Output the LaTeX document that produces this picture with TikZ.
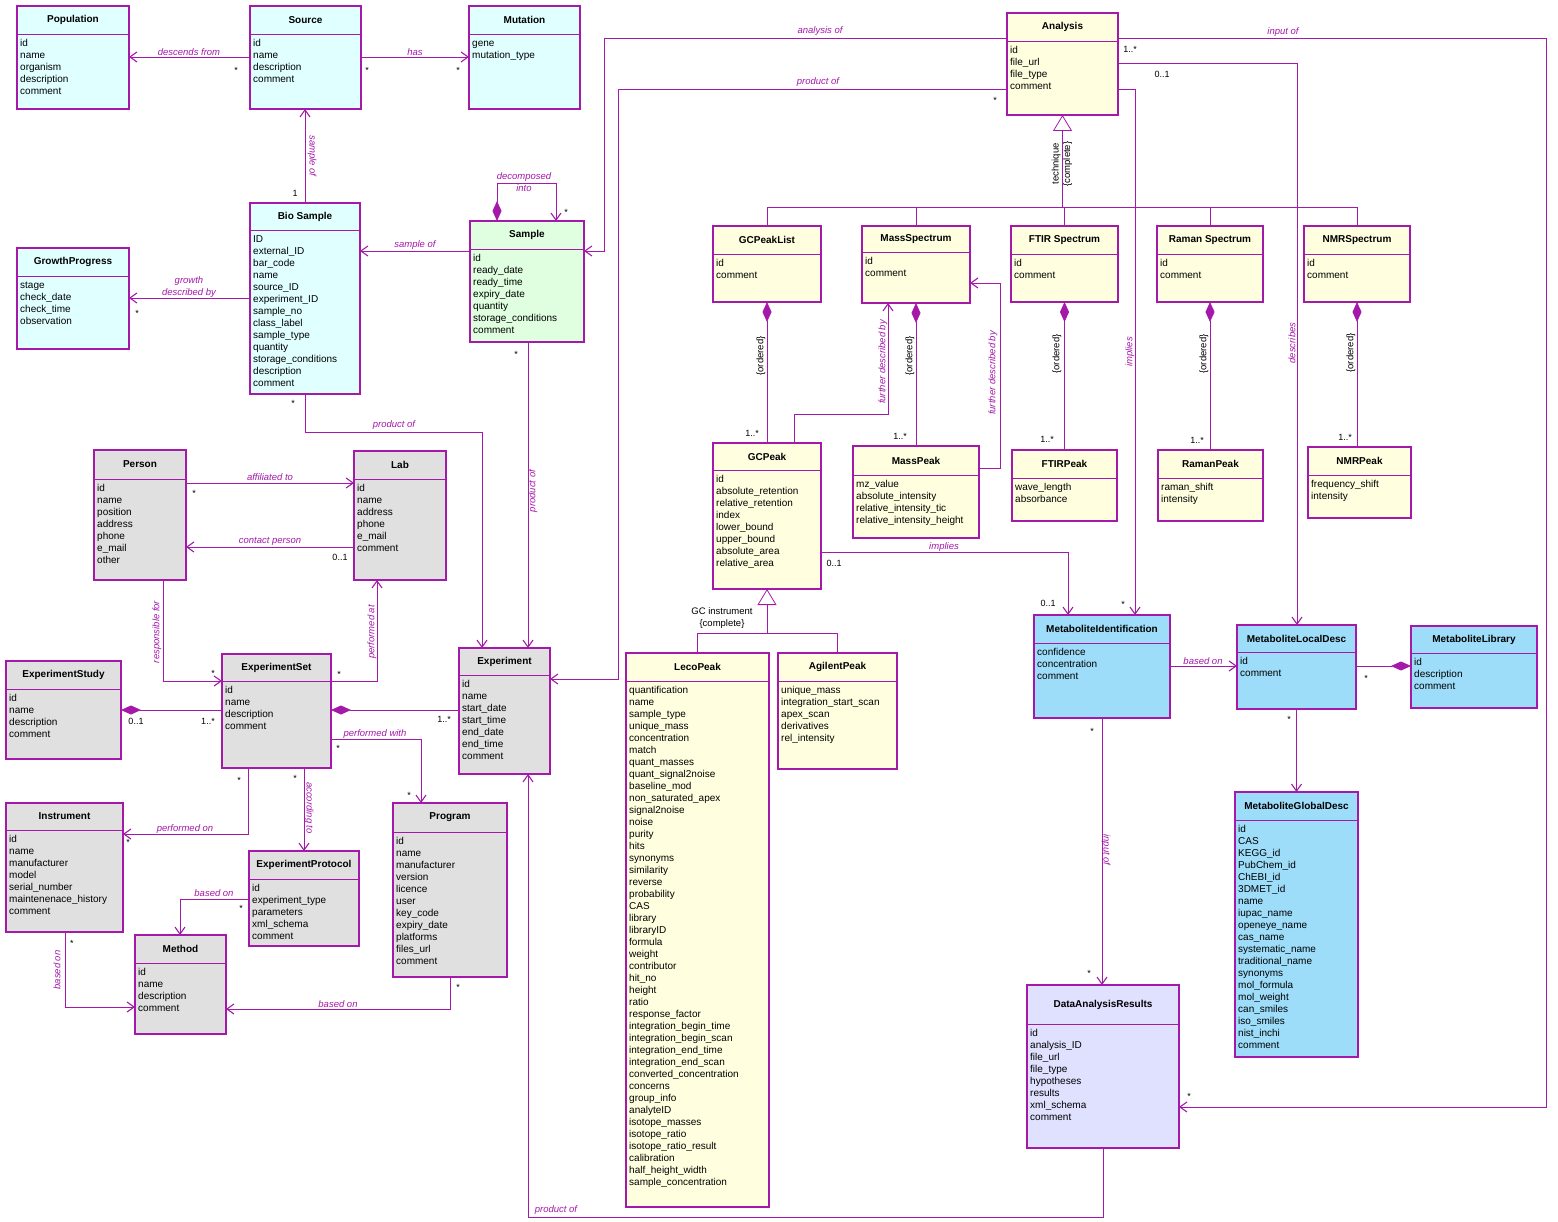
\documentclass[tikz,border=0pt]{standalone}
\usepackage{fontspec}
\setmainfont{Liberation Sans}
\usetikzlibrary{arrows.meta}
\definecolor{umlc}{RGB}{165,25,170}
\definecolor{cyanbg}{RGB}{224,255,255}
\definecolor{yellowbg}{RGB}{255,255,224}
\definecolor{graybg}{RGB}{224,224,224}
\definecolor{greenbg}{RGB}{224,255,224}
\definecolor{bluebg}{RGB}{157,221,250}
\definecolor{lilacbg}{RGB}{224,224,255}
\tikzset{
  classbox/.style={draw=umlc, line width=2.2pt, inner sep=0pt, outer sep=0pt},
  classtitle/.style={font=\bfseries\fontsize{10}{12}\selectfont, inner sep=0pt},
  sepline/.style={draw=umlc, line width=0.8pt},
  attrs/.style={align=left, anchor=north west, inner sep=0pt, font=\fontsize{10}{12}\selectfont},
  link/.style={draw=umlc, line width=0.8pt},
  assoc/.style={link, -{Straight Barb[length=7pt,width=10pt,line width=1.1pt]}},
  compo/.style={link, {Diamond[length=20pt,width=9pt]}-},
  gener/.style={link, {Triangle[length=16pt,width=19pt,fill=white]}-},
  role/.style={font=\itshape\fontsize{9.5}{11.5}\selectfont, text=umlc, inner sep=0pt, align=center},
  note/.style={font=\fontsize{9.5}{11.5}\selectfont, inner sep=0pt, align=center},
  mult/.style={font=\fontsize{9}{10}\selectfont, inner sep=0pt},
}
% name, x, y, width, height, fill, title, attributes, header height
\newcommand{\umlclass}[9]{%
  \node[classbox, fill=#6, minimum width=#4, minimum height=#5, anchor=north west] (#1) at (#2,#3) {};
  \node[classtitle] (#1-title) at ([yshift=-#9/2]#1.north) {#7};
  \draw[sepline] ([yshift=-#9]#1.north west) -- ([yshift=-#9]#1.north east);
  \node[attrs] (#1-attrs) at ([xshift=3,yshift=-#9-3.6]#1.north west) {\strut#8};
}
\begin{document}
\begin{tikzpicture}[x=1pt,y=-1pt]
  \fill[white] (0,0) rectangle (1558,1222);
  \useasboundingbox (0,0) rectangle (1558,1222);

  % classes
  \umlclass{population}{17}{6}{112}{103}{cyanbg}{Population}{id\\name\\organism\\description\\comment}{28}
  \umlclass{source}{250}{6}{111}{103}{cyanbg}{Source}{id\\name\\description\\comment}{28}
  \umlclass{mutation}{469}{6}{111}{103}{cyanbg}{Mutation}{gene\\mutation\_type}{28}
  \umlclass{biosample}{250}{203}{110}{191}{cyanbg}{Bio Sample}{ID\\external\_ID\\bar\_code\\name\\source\_ID\\experiment\_ID\\sample\_no\\class\_label\\sample\_type\\quantity\\storage\_conditions\\description\\comment}{27}
  \umlclass{sample}{470}{221}{114}{121}{greenbg}{Sample}{id\\ready\_date\\ready\_time\\expiry\_date\\quantity\\storage\_conditions\\comment}{28}
  \umlclass{growth}{17}{248}{112}{101}{cyanbg}{GrowthProgress}{stage\\check\_date\\check\_time\\observation}{28}
  \umlclass{person}{94}{450}{92}{130}{graybg}{Person}{id\\name\\position\\address\\phone\\e\_mail\\other}{29}
  \umlclass{lab}{354}{451}{92}{129}{graybg}{Lab}{id\\name\\address\\phone\\e\_mail\\comment}{28}
  \umlclass{expstudy}{6}{661}{115}{98}{graybg}{ExperimentStudy}{id\\name\\description\\comment}{28}
  \umlclass{expset}{222}{654}{109}{114}{graybg}{ExperimentSet}{id\\name\\description\\comment}{27}
  \umlclass{experiment}{459}{648}{91}{126}{graybg}{Experiment}{id\\name\\start\_date\\start\_time\\end\_date\\end\_time\\comment}{27}
  \umlclass{instrument}{6}{803}{117}{129}{graybg}{Instrument}{id\\name\\manufacturer\\model\\serial\_number\\maintenenace\_history\\comment}{27}
  \umlclass{protocol}{249}{851}{110}{95}{graybg}{ExperimentProtocol}{id\\experiment\_type\\parameters\\xml\_schema\\comment}{28}
  \umlclass{method}{135}{935}{91}{99}{graybg}{Method}{id\\name\\description\\comment}{28}
  \umlclass{program}{393}{803}{114}{174}{graybg}{Program}{id\\name\\manufacturer\\version\\licence\\user\\key\_code\\expiry\_date\\platforms\\files\_url\\comment}{29}
  \umlclass{analysis}{1007}{13}{111}{102}{yellowbg}{Analysis}{id\\file\_url\\file\_type\\comment}{28}
  \umlclass{gcpeaklist}{713}{226}{108}{76}{yellowbg}{GCPeakList}{id\\comment}{28}
  \umlclass{massspec}{862}{226}{108}{77}{yellowbg}{MassSpectrum}{id\\comment}{26}
  \umlclass{ftirspec}{1011}{226}{107}{76}{yellowbg}{FTIR Spectrum}{id\\comment}{28}
  \umlclass{ramanspec}{1157}{226}{106}{76}{yellowbg}{Raman Spectrum}{id\\comment}{28}
  \umlclass{nmrspec}{1304}{226}{106}{76}{yellowbg}{NMRSpectrum}{id\\comment}{28}
  \umlclass{gcpeak}{713}{443}{108}{146}{yellowbg}{GCPeak}{id\\absolute\_retention\\relative\_retention\\index\\lower\_bound\\upper\_bound\\absolute\_area\\relative\_area}{27}
  \umlclass{masspeak}{853}{446}{126}{92}{yellowbg}{MassPeak}{mz\_value\\absolute\_intensity\\relative\_intensity\_tic\\relative\_intensity\_height}{29}
  \umlclass{ftirpeak}{1012}{450}{105}{71}{yellowbg}{FTIRPeak}{wave\_length\\absorbance}{28}
  \umlclass{ramanpeak}{1158}{450}{105}{71}{yellowbg}{RamanPeak}{raman\_shift\\intensity}{28}
  \umlclass{nmrpeak}{1308}{447}{103}{71}{yellowbg}{NMRPeak}{frequency\_shift\\intensity}{28}
  \umlclass{leco}{626}{653}{143}{554}{yellowbg}{LecoPeak}{quantification\\name\\sample\_type\\unique\_mass\\concentration\\match\\quant\_masses\\quant\_signal2noise\\baseline\_mod\\non\_saturated\_apex\\signal2noise\\noise\\purity\\hits\\synonyms\\similarity\\reverse\\probability\\CAS\\library\\libraryID\\formula\\weight\\contributor\\hit\_no\\height\\ratio\\response\_factor\\integration\_begin\_time\\integration\_begin\_scan\\integration\_end\_time\\integration\_end\_scan\\converted\_concentration\\concerns\\group\_info\\analyteID\\isotope\_masses\\isotope\_ratio\\isotope\_ratio\_result\\calibration\\half\_height\_width\\sample\_concentration}{28}
  \umlclass{agilent}{778}{653}{119}{116}{yellowbg}{AgilentPeak}{unique\_mass\\integration\_start\_scan\\apex\_scan\\derivatives\\rel\_intensity}{28}
  \umlclass{metid}{1034}{615}{136}{103}{bluebg}{MetaboliteIdentification}{confidence\\concentration\\comment}{28}
  \umlclass{localdesc}{1237}{625}{119}{84}{bluebg}{MetaboliteLocalDesc}{id\\comment}{27}
  \umlclass{library}{1411}{626}{126}{82}{bluebg}{MetaboliteLibrary}{id\\description\\comment}{27}
  \umlclass{globaldesc}{1235}{792}{123}{265}{bluebg}{MetaboliteGlobalDesc}{id\\CAS\\KEGG\_id\\PubChem\_id\\ChEBI\_id\\3DMET\_id\\name\\iupac\_name\\openeye\_name\\cas\_name\\systematic\_name\\traditional\_name\\synonyms\\mol\_formula\\mol\_weight\\can\_smiles\\iso\_smiles\\nist\_inchi\\comment}{28}
  \umlclass{results}{1027}{985}{152}{163}{lilacbg}{DataAnalysisResults}{id\\analysis\_ID\\file\_url\\file\_type\\hypotheses\\results\\xml\_schema\\comment}{39}

  % associations
  \draw[assoc] (source.west |- 0,57) -- (population.east |- 0,57);
  \draw[assoc] (source.east |- 0,57) -- (mutation.west |- 0,57);
  \draw[assoc] (biosample.north) -- (biosample.north |- source.south);
  \draw[assoc] (biosample.west |- 0,298) -- (growth.east |- 0,298);
  \draw[assoc] (sample.west |- 0,251) -- (biosample.east |- 0,251);
  \draw[link, {Diamond[length=20pt,width=9pt]}-{Straight Barb[length=7pt,width=10pt,line width=1.1pt]}]
    (sample.north -| 497,0) -- (497,183) -- (556,183) -- (sample.north -| 556,0);
  \draw[assoc] (biosample.south) -- (biosample.south |- 0,432) -| (experiment.north -| 482,0);
  \draw[assoc] (sample.south -| 528,0) -- (experiment.north -| 528,0);
  \draw[assoc] (person.east |- 0,483) -- (lab.west |- 0,483);
  \draw[assoc] (lab.west |- 0,547) -- (person.east |- 0,547);
  \draw[assoc] (person.south -| 163,0) |- (expset.west |- 0,681);
  \draw[assoc] (expset.east |- 0,681) -| (lab.south -| 377,0);
  \draw[compo] (expstudy.east |- 0,710) -- (expset.west |- 0,710);
  \draw[compo] (expset.east |- 0,710) -- (experiment.west |- 0,710);
  \draw[assoc] (expset.east |- 0,739) -| (program.north -| 421,0);
  \draw[assoc] (expset.south -| 248,0) |- (instrument.east |- 0,834);
  \draw[assoc] (expset.south -| 304,0) -- (protocol.north -| 304,0);
  \draw[assoc] (protocol.west |- 0,899) -| (method.north -| 180,0);
  \draw[assoc] (instrument.south -| 65,0) |- (method.west |- 0,1007);
  \draw[assoc] (program.south -| 450,0) |- (method.east |- 0,1009);
  \draw[assoc] (analysis.west |- 0,38) -| (604,251) -- (sample.east |- 0,251);
  \draw[assoc] (analysis.west |- 0,89) -| (618,679) -- (experiment.east |- 0,679);
  \draw[assoc] (analysis.east |- 0,38) -| (1546,1107) -- (results.east |- 0,1107);
  \draw[assoc] (analysis.east |- 0,63) -| (localdesc.north -| 1297,0);
  \draw[assoc] (analysis.east |- 0,89) -| (metid.north -| 1135,0);
  \draw[gener] (analysis.south) -- (analysis.south |- 0,207);
  \draw[link] (gcpeaklist.north) -- (gcpeaklist.north |- 0,207) -- (nmrspec.north |- 0,207) -- (nmrspec.north);
  \foreach \n in {massspec,ftirspec,ramanspec}
    \draw[link] (\n.north) -- (\n.north |- 0,207);
  \foreach \a/\b in {gcpeaklist/gcpeak,massspec/masspeak,ftirspec/ftirpeak,ramanspec/ramanpeak,nmrspec/nmrpeak}
    \draw[compo] (\a.south) -- (\a.south |- \b.north);
  \draw[assoc] (gcpeak.north -| 794,0) |- (888,414) -- (massspec.south -| 888,0);
  \draw[assoc] (masspeak.east |- 0,468) -| (1000,283) -- (massspec.east |- 0,283);
  \draw[assoc] (gcpeak.east |- 0,552) -| (metid.north -| 1068,0);
  \draw[gener] (gcpeak.south) -- (gcpeak.south |- 0,633);
  \draw[link] (leco.north) -- (leco.north |- 0,633) -- (agilent.north |- 0,633) -- (agilent.north);
  \draw[assoc] (metid.east |- 0,666) -- (localdesc.west |- 0,666);
  \draw[compo] (library.west |- 0,666) -- (localdesc.east |- 0,666);
  \draw[assoc] (localdesc.south) -- (localdesc.south |- globaldesc.north);
  \draw[assoc] (metid.south) -- (metid.south |- results.north);
  \draw[assoc] (results.south) |- (528,1217) -- (experiment.south -| 528,0);

  % role names
  \node[role] (r-descends) at (189,52) {descends from};
  \node[role] (r-has) at (415,52) {has};
  \node[role, rotate=-90] (r-sampleof1) at (312,156) {sample of};
  \node[role] (r-growth) at (189,287) {growth\\described by};
  \node[role] (r-sampleof2) at (415,245) {sample of};
  \node[role] (r-decomposed) at (524,182) {decomposed\\into};
  \node[role] (r-product1) at (394,425) {product of};
  \node[role, rotate=90] (r-product2) at (533,491) {product of};
  \node[role] (r-affiliated) at (270,477) {affiliated to};
  \node[role] (r-contact) at (270,541) {contact person};
  \node[role, rotate=90] (r-responsible) at (157,632) {responsible for};
  \node[role, rotate=90] (r-performedat) at (372,632) {performed at};
  \node[role] (r-performedwith) at (375,734) {performed with};
  \node[role] (r-performedon) at (185,829) {performed on};
  \node[role, rotate=-90] (r-according) at (309,808) {according to};
  \node[role] (r-basedon1) at (214,893) {based on};
  \node[role, rotate=90] (r-basedon2) at (57,970) {based on};
  \node[role] (r-basedon3) at (338,1004) {based on};
  \node[role] (r-analysisof) at (820,31) {analysis of};
  \node[role] (r-product3) at (818,82) {product of};
  \node[role] (r-inputof1) at (1283,32) {input of};
  \node[role, rotate=90] (r-further1) at (883,362) {further described by};
  \node[role, rotate=90] (r-further2) at (993,373) {further described by};
  \node[role] (r-implies1) at (944,547) {implies};
  \node[role, rotate=90] (r-implies2) at (1130,352) {implies};
  \node[role, rotate=90] (r-describes) at (1292,343) {describes};
  \node[role] (r-basedon4) at (1203,661) {based on};
  \node[role, rotate=-90] (r-inputof2) at (1106,850) {input of};
  \node[role] (r-product4) at (556,1210) {product of};

  % constraints
  \node[note, rotate=90] (n-technique) at (1062,164) {technique\\\{complete\}};
  \node[note] (n-gcinstr) at (722,618) {GC instrument\\\{complete\}};
  \node[note, rotate=90] (n-ord1) at (761,356) {\{ordered\}};
  \node[note, rotate=90] (n-ord2) at (910,356) {\{ordered\}};
  \node[note, rotate=90] (n-ord3) at (1057,354) {\{ordered\}};
  \node[note, rotate=90] (n-ord4) at (1204,354) {\{ordered\}};
  \node[note, rotate=90] (n-ord5) at (1351,353) {\{ordered\}};

  % multiplicities
  \node[mult] (m1) at (236,70) {*};
  \node[mult] (m2) at (367,70) {*};
  \node[mult] (m3) at (458,70) {*};
  \node[mult] (m4) at (295,193) {1};
  \node[mult] (m5) at (137,313) {*};
  \node[mult] (m6) at (566,212) {*};
  \node[mult] (m7) at (293,403) {*};
  \node[mult] (m8) at (516,354) {*};
  \node[mult] (m9) at (194,493) {*};
  \node[mult] (m10) at (340,557) {0..1};
  \node[mult] (m11) at (213,673) {*};
  \node[mult] (m12) at (339,674) {*};
  \node[mult] (m13) at (136,721) {0..1};
  \node[mult] (m14) at (208,721) {1..*};
  \node[mult] (m15) at (444,719) {1..*};
  \node[mult] (m16) at (338,748) {*};
  \node[mult] (m17) at (409,795) {*};
  \node[mult] (m18) at (239,780) {*};
  \node[mult] (m19) at (295,778) {*};
  \node[mult] (m20) at (128,842) {*};
  \node[mult] (m21) at (241,908) {*};
  \node[mult] (m22) at (72,943) {*};
  \node[mult] (m23) at (458,987) {*};
  \node[mult] (m24) at (1130,49) {1..*};
  \node[mult] (m25) at (1162,74) {0..1};
  \node[mult] (m26) at (995,100) {*};
  \node[mult] (m27) at (752,433) {1..*};
  \node[mult] (m28) at (900,436) {1..*};
  \node[mult] (m29) at (1047,439) {1..*};
  \node[mult] (m30) at (1197,440) {1..*};
  \node[mult] (m31) at (1345,437) {1..*};
  \node[mult] (m32) at (834,563) {0..1};
  \node[mult] (m33) at (1048,603) {0..1};
  \node[mult] (m34) at (1123,604) {*};
  \node[mult] (m35) at (1366,678) {*};
  \node[mult] (m36) at (1289,719) {*};
  \node[mult] (m37) at (1092,731) {*};
  \node[mult] (m38) at (1089,973) {*};
  \node[mult] (m39) at (1189,1096) {*};
\end{tikzpicture}
\end{document}
